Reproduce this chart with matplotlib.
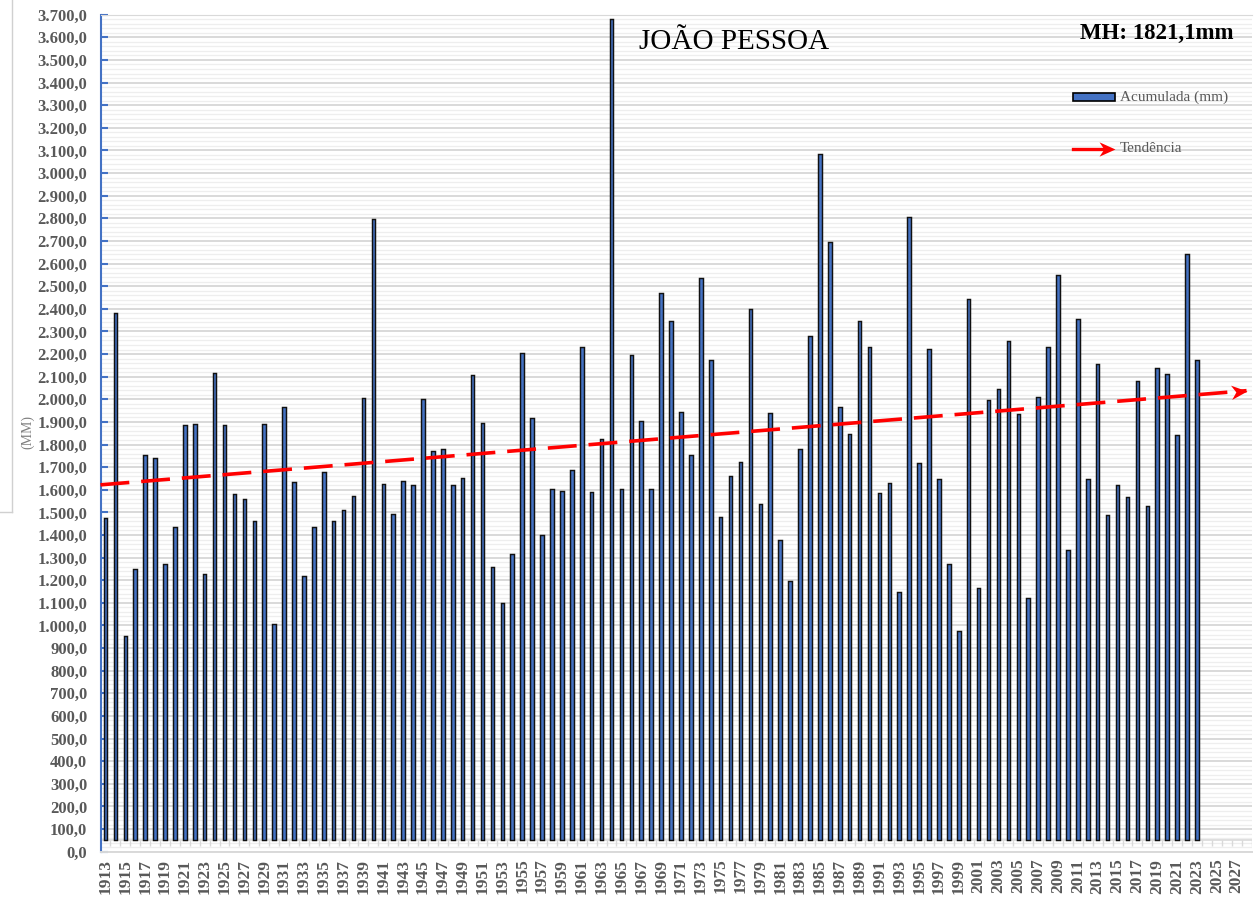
import numpy as np
import matplotlib
matplotlib.use("Agg")
import matplotlib.pyplot as plt
from matplotlib.lines import Line2D
from matplotlib.patches import Rectangle
from matplotlib.path import Path
from matplotlib.markers import MarkerStyle
from matplotlib.ticker import FuncFormatter, MultipleLocator
from matplotlib.transforms import Affine2D

plt.rcParams['font.family'] = ['Liberation Serif', 'DejaVu Serif']

# annual rainfall, Joao Pessoa (mm)
years = list(range(1913, 2024))
rain = [1475, 2380, 955, 1250, 1755, 1740, 1270, 1437, 1886, 1892,
        1226, 2116, 1885, 1583, 1561, 1462, 1892, 1008, 1967, 1633,
        1219, 1437, 1679, 1462, 1509, 1571, 2006, 2796, 1624, 1492,
        1640, 1620, 2003, 1771, 1782, 1620, 1653, 2109, 1895, 1260,
        1098, 1316, 2206, 1917, 1399, 1605, 1596, 1686, 2233, 1592,
        1826, 3683, 1602, 2194, 1905, 1605, 2469, 2348, 1944, 1754,
        2538, 2172, 1481, 1661, 1723, 2399, 1537, 1941, 1378, 1195,
        1782, 2278, 3086, 2697, 1966, 1848, 2348, 2231, 1586, 1630,
        1149, 2807, 1720, 2224, 1649, 1270, 974, 2445, 1167, 1997,
        2046, 2259, 1935, 1123, 2011, 2231, 2551, 1334, 2355, 1649,
        2155, 1488, 1620, 1568, 2080, 1527, 2137, 2113, 1842, 2644,
        2172]
axis_years = list(range(1913, 2029))  # category axis runs to 2028
tick_years = list(range(1913, 2028, 2))

title = "JOÃO PESSOA"
mh_text = "MH: 1821,1mm"

BLUE = '#4472C4'
GRAY_TXT = '#595959'
CROSS = 50  # value where the category axis crosses

W, H = 1257, 902
fig = plt.figure(figsize=(W / 100, H / 100), dpi=100)
ax = fig.add_axes([100.5 / W, 1 - 851.7 / H, 1151 / W, 837 / H])
ax.set_xlim(axis_years[0] - 0.5, axis_years[-1] + 0.5)
ax.set_ylim(0, 3700)

# grid
ax.yaxis.set_major_locator(MultipleLocator(100))
ax.yaxis.set_minor_locator(MultipleLocator(20))
ax.grid(which='major', axis='y', color='#d9d9d9', lw=1.4, zorder=0)
ax.grid(which='minor', axis='y', color='#eeeeee', lw=0.9, zorder=0)
ax.set_axisbelow(True)

# bars
vals = np.array(rain)
ax.bar(years, vals - CROSS, bottom=CROSS, width=0.36, color=BLUE,
       edgecolor='#111111', linewidth=1.05, zorder=3)

# category axis with ticks between categories
ax.axhline(CROSS, color='#d9d9d9', lw=1.2, zorder=2)
edges = np.array(axis_years) + 0.5
ax.vlines(edges, CROSS - 26, CROSS, color='#d9d9d9', lw=1.0, zorder=2)

# linear trend, extended half a category back and to 2028
coef = np.polyfit(years, vals, 1)
tx = np.array([axis_years[0] - 0.5, axis_years[-1]])
ty = np.polyval(coef, tx)
ax.plot(tx, ty, color='red', lw=2.6, dashes=(8, 3.3), zorder=4,
        solid_capstyle='butt', dash_capstyle='butt', clip_on=False)

head = Path([(0, 0), (-2, 0.9), (-1.4, 0), (-2, -0.9), (0, 0)],
            [Path.MOVETO, Path.LINETO, Path.LINETO, Path.LINETO, Path.CLOSEPOLY])
p0 = ax.transData.transform((tx[0], ty[0]))
p1 = ax.transData.transform((tx[1], ty[1]))
ang = np.degrees(np.arctan2(p1[1] - p0[1], p1[0] - p0[0]))
ax.plot([tx[1]], [ty[1]], ls='none', color='red', markersize=23,
        marker=MarkerStyle(head, transform=Affine2D().rotate_deg(ang)),
        markeredgewidth=0, zorder=5, clip_on=False)

# spines and ticks
ax.spines['right'].set_visible(False)
ax.spines['top'].set_color('#d9d9d9')
ax.spines['bottom'].set_color('#d9d9d9')
ax.spines['bottom'].set_linewidth(1.4)
ax.spines['left'].set_color(BLUE)
ax.spines['left'].set_linewidth(1.5)
ax.tick_params(axis='y', which='major', direction='in', length=5, width=1.5,
               color=BLUE, pad=9.5, labelsize=12, labelcolor=GRAY_TXT)
ax.tick_params(axis='y', which='minor', length=0)
ax.yaxis.set_major_formatter(FuncFormatter(
    lambda v, p: f"{v:,.1f}".replace(',', 'X').replace('.', ',').replace('X', '.')))

ax.set_xticks(tick_years)
ax.set_xticklabels([str(y) for y in tick_years], rotation=90,
                   fontsize=12.5, fontweight='bold', color=GRAY_TXT)
ax.tick_params(axis='x', length=0, pad=5)
plt.setp(ax.get_yticklabels(), fontweight='bold')

fig.text(28 / W, 1 - 432 / H, '(MM)', rotation=90, ha='center', va='center',
         fontsize=10, color='#808080')

# titles
fig.text(734 / W, 1 - 42 / H, title, ha='center', va='center', fontsize=21,
         color='black')
fig.text(1157 / W, 1 - 33 / H, mh_text, ha='center', va='center', fontsize=16.5,
         fontweight='bold', color='black')

# legend (drawn by hand to get the arrow marker)
fig.add_artist(Rectangle((1073 / W, 1 - 101 / H), 42 / W, 8 / H,
                         transform=fig.transFigure, facecolor=BLUE,
                         edgecolor='black', lw=1.2))
fig.text(1120 / W, 1 - 97 / H, 'Acumulada (mm)', ha='left', va='center',
         fontsize=11, color=GRAY_TXT)
fig.add_artist(Line2D([1073 / W, 1103 / W], [1 - 149 / H, 1 - 149 / H],
                      color='red', lw=2.4, transform=fig.transFigure))
fig.add_artist(Line2D([1115 / W], [1 - 149 / H], ls='none', color='red',
                      marker=MarkerStyle(head), markersize=23,
                      markeredgewidth=0, transform=fig.transFigure))
fig.text(1120 / W, 1 - 148 / H, 'Tendência', ha='left', va='center',
         fontsize=11, color=GRAY_TXT)

# edge of a neighbouring box at the left
fig.add_artist(Line2D([12 / W, 12 / W], [1, 1 - 512 / H], color='#d0d0d0', lw=1))
fig.add_artist(Line2D([0, 12 / W], [1 - 512 / H, 1 - 512 / H], color='#d0d0d0', lw=1))

fig.savefig('out.png', dpi=100)
